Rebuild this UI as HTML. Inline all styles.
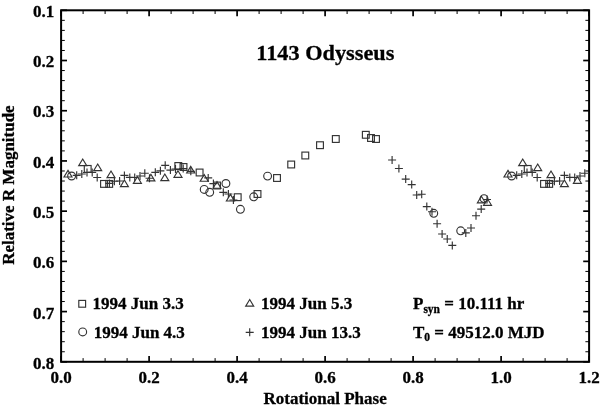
<!DOCTYPE html>
<html><head><meta charset="utf-8"><style>
html,body{margin:0;padding:0;background:#fff;}
svg{display:block;filter:grayscale(1);}
.t{font-family:"Liberation Serif",serif;font-weight:bold;font-size:17px;fill:#000;stroke:#000;stroke-width:0.3px;}
.m{fill:none;stroke:#333;stroke-width:1.15;}
</style></head><body>
<svg width="600" height="408" viewBox="0 0 600 408">
<rect x="61.1" y="10.3" width="528.00" height="351.50" fill="none" stroke="#000" stroke-width="2"/>
<line x1="61.1" y1="10.30" x2="67.00" y2="10.30" stroke="#000" stroke-width="1.7"/>
<line x1="589.1" y1="10.30" x2="583.20" y2="10.30" stroke="#000" stroke-width="1.7"/>
<line x1="61.1" y1="20.34" x2="64.80" y2="20.34" stroke="#000" stroke-width="1"/>
<line x1="589.1" y1="20.34" x2="585.40" y2="20.34" stroke="#000" stroke-width="1"/>
<line x1="61.1" y1="30.39" x2="64.80" y2="30.39" stroke="#000" stroke-width="1"/>
<line x1="589.1" y1="30.39" x2="585.40" y2="30.39" stroke="#000" stroke-width="1"/>
<line x1="61.1" y1="40.43" x2="64.80" y2="40.43" stroke="#000" stroke-width="1"/>
<line x1="589.1" y1="40.43" x2="585.40" y2="40.43" stroke="#000" stroke-width="1"/>
<line x1="61.1" y1="50.47" x2="64.80" y2="50.47" stroke="#000" stroke-width="1"/>
<line x1="589.1" y1="50.47" x2="585.40" y2="50.47" stroke="#000" stroke-width="1"/>
<line x1="61.1" y1="60.51" x2="67.00" y2="60.51" stroke="#000" stroke-width="1.7"/>
<line x1="589.1" y1="60.51" x2="583.20" y2="60.51" stroke="#000" stroke-width="1.7"/>
<line x1="61.1" y1="70.56" x2="64.80" y2="70.56" stroke="#000" stroke-width="1"/>
<line x1="589.1" y1="70.56" x2="585.40" y2="70.56" stroke="#000" stroke-width="1"/>
<line x1="61.1" y1="80.60" x2="64.80" y2="80.60" stroke="#000" stroke-width="1"/>
<line x1="589.1" y1="80.60" x2="585.40" y2="80.60" stroke="#000" stroke-width="1"/>
<line x1="61.1" y1="90.64" x2="64.80" y2="90.64" stroke="#000" stroke-width="1"/>
<line x1="589.1" y1="90.64" x2="585.40" y2="90.64" stroke="#000" stroke-width="1"/>
<line x1="61.1" y1="100.69" x2="64.80" y2="100.69" stroke="#000" stroke-width="1"/>
<line x1="589.1" y1="100.69" x2="585.40" y2="100.69" stroke="#000" stroke-width="1"/>
<line x1="61.1" y1="110.73" x2="67.00" y2="110.73" stroke="#000" stroke-width="1.7"/>
<line x1="589.1" y1="110.73" x2="583.20" y2="110.73" stroke="#000" stroke-width="1.7"/>
<line x1="61.1" y1="120.77" x2="64.80" y2="120.77" stroke="#000" stroke-width="1"/>
<line x1="589.1" y1="120.77" x2="585.40" y2="120.77" stroke="#000" stroke-width="1"/>
<line x1="61.1" y1="130.81" x2="64.80" y2="130.81" stroke="#000" stroke-width="1"/>
<line x1="589.1" y1="130.81" x2="585.40" y2="130.81" stroke="#000" stroke-width="1"/>
<line x1="61.1" y1="140.86" x2="64.80" y2="140.86" stroke="#000" stroke-width="1"/>
<line x1="589.1" y1="140.86" x2="585.40" y2="140.86" stroke="#000" stroke-width="1"/>
<line x1="61.1" y1="150.90" x2="64.80" y2="150.90" stroke="#000" stroke-width="1"/>
<line x1="589.1" y1="150.90" x2="585.40" y2="150.90" stroke="#000" stroke-width="1"/>
<line x1="61.1" y1="160.94" x2="67.00" y2="160.94" stroke="#000" stroke-width="1.7"/>
<line x1="589.1" y1="160.94" x2="583.20" y2="160.94" stroke="#000" stroke-width="1.7"/>
<line x1="61.1" y1="170.99" x2="64.80" y2="170.99" stroke="#000" stroke-width="1"/>
<line x1="589.1" y1="170.99" x2="585.40" y2="170.99" stroke="#000" stroke-width="1"/>
<line x1="61.1" y1="181.03" x2="64.80" y2="181.03" stroke="#000" stroke-width="1"/>
<line x1="589.1" y1="181.03" x2="585.40" y2="181.03" stroke="#000" stroke-width="1"/>
<line x1="61.1" y1="191.07" x2="64.80" y2="191.07" stroke="#000" stroke-width="1"/>
<line x1="589.1" y1="191.07" x2="585.40" y2="191.07" stroke="#000" stroke-width="1"/>
<line x1="61.1" y1="201.11" x2="64.80" y2="201.11" stroke="#000" stroke-width="1"/>
<line x1="589.1" y1="201.11" x2="585.40" y2="201.11" stroke="#000" stroke-width="1"/>
<line x1="61.1" y1="211.16" x2="67.00" y2="211.16" stroke="#000" stroke-width="1.7"/>
<line x1="589.1" y1="211.16" x2="583.20" y2="211.16" stroke="#000" stroke-width="1.7"/>
<line x1="61.1" y1="221.20" x2="64.80" y2="221.20" stroke="#000" stroke-width="1"/>
<line x1="589.1" y1="221.20" x2="585.40" y2="221.20" stroke="#000" stroke-width="1"/>
<line x1="61.1" y1="231.24" x2="64.80" y2="231.24" stroke="#000" stroke-width="1"/>
<line x1="589.1" y1="231.24" x2="585.40" y2="231.24" stroke="#000" stroke-width="1"/>
<line x1="61.1" y1="241.29" x2="64.80" y2="241.29" stroke="#000" stroke-width="1"/>
<line x1="589.1" y1="241.29" x2="585.40" y2="241.29" stroke="#000" stroke-width="1"/>
<line x1="61.1" y1="251.33" x2="64.80" y2="251.33" stroke="#000" stroke-width="1"/>
<line x1="589.1" y1="251.33" x2="585.40" y2="251.33" stroke="#000" stroke-width="1"/>
<line x1="61.1" y1="261.37" x2="67.00" y2="261.37" stroke="#000" stroke-width="1.7"/>
<line x1="589.1" y1="261.37" x2="583.20" y2="261.37" stroke="#000" stroke-width="1.7"/>
<line x1="61.1" y1="271.41" x2="64.80" y2="271.41" stroke="#000" stroke-width="1"/>
<line x1="589.1" y1="271.41" x2="585.40" y2="271.41" stroke="#000" stroke-width="1"/>
<line x1="61.1" y1="281.46" x2="64.80" y2="281.46" stroke="#000" stroke-width="1"/>
<line x1="589.1" y1="281.46" x2="585.40" y2="281.46" stroke="#000" stroke-width="1"/>
<line x1="61.1" y1="291.50" x2="64.80" y2="291.50" stroke="#000" stroke-width="1"/>
<line x1="589.1" y1="291.50" x2="585.40" y2="291.50" stroke="#000" stroke-width="1"/>
<line x1="61.1" y1="301.54" x2="64.80" y2="301.54" stroke="#000" stroke-width="1"/>
<line x1="589.1" y1="301.54" x2="585.40" y2="301.54" stroke="#000" stroke-width="1"/>
<line x1="61.1" y1="311.59" x2="67.00" y2="311.59" stroke="#000" stroke-width="1.7"/>
<line x1="589.1" y1="311.59" x2="583.20" y2="311.59" stroke="#000" stroke-width="1.7"/>
<line x1="61.1" y1="321.63" x2="64.80" y2="321.63" stroke="#000" stroke-width="1"/>
<line x1="589.1" y1="321.63" x2="585.40" y2="321.63" stroke="#000" stroke-width="1"/>
<line x1="61.1" y1="331.67" x2="64.80" y2="331.67" stroke="#000" stroke-width="1"/>
<line x1="589.1" y1="331.67" x2="585.40" y2="331.67" stroke="#000" stroke-width="1"/>
<line x1="61.1" y1="341.71" x2="64.80" y2="341.71" stroke="#000" stroke-width="1"/>
<line x1="589.1" y1="341.71" x2="585.40" y2="341.71" stroke="#000" stroke-width="1"/>
<line x1="61.1" y1="351.76" x2="64.80" y2="351.76" stroke="#000" stroke-width="1"/>
<line x1="589.1" y1="351.76" x2="585.40" y2="351.76" stroke="#000" stroke-width="1"/>
<line x1="61.1" y1="361.80" x2="67.00" y2="361.80" stroke="#000" stroke-width="1.7"/>
<line x1="589.1" y1="361.80" x2="583.20" y2="361.80" stroke="#000" stroke-width="1.7"/>
<line x1="61.10" y1="10.3" x2="61.10" y2="16.20" stroke="#000" stroke-width="1.7"/>
<line x1="61.10" y1="361.8" x2="61.10" y2="355.90" stroke="#000" stroke-width="1.7"/>
<line x1="83.10" y1="10.3" x2="83.10" y2="14.00" stroke="#000" stroke-width="1"/>
<line x1="83.10" y1="361.8" x2="83.10" y2="358.10" stroke="#000" stroke-width="1"/>
<line x1="105.10" y1="10.3" x2="105.10" y2="14.00" stroke="#000" stroke-width="1"/>
<line x1="105.10" y1="361.8" x2="105.10" y2="358.10" stroke="#000" stroke-width="1"/>
<line x1="127.10" y1="10.3" x2="127.10" y2="14.00" stroke="#000" stroke-width="1"/>
<line x1="127.10" y1="361.8" x2="127.10" y2="358.10" stroke="#000" stroke-width="1"/>
<line x1="149.10" y1="10.3" x2="149.10" y2="16.20" stroke="#000" stroke-width="1.7"/>
<line x1="149.10" y1="361.8" x2="149.10" y2="355.90" stroke="#000" stroke-width="1.7"/>
<line x1="171.10" y1="10.3" x2="171.10" y2="14.00" stroke="#000" stroke-width="1"/>
<line x1="171.10" y1="361.8" x2="171.10" y2="358.10" stroke="#000" stroke-width="1"/>
<line x1="193.10" y1="10.3" x2="193.10" y2="14.00" stroke="#000" stroke-width="1"/>
<line x1="193.10" y1="361.8" x2="193.10" y2="358.10" stroke="#000" stroke-width="1"/>
<line x1="215.10" y1="10.3" x2="215.10" y2="14.00" stroke="#000" stroke-width="1"/>
<line x1="215.10" y1="361.8" x2="215.10" y2="358.10" stroke="#000" stroke-width="1"/>
<line x1="237.10" y1="10.3" x2="237.10" y2="16.20" stroke="#000" stroke-width="1.7"/>
<line x1="237.10" y1="361.8" x2="237.10" y2="355.90" stroke="#000" stroke-width="1.7"/>
<line x1="259.10" y1="10.3" x2="259.10" y2="14.00" stroke="#000" stroke-width="1"/>
<line x1="259.10" y1="361.8" x2="259.10" y2="358.10" stroke="#000" stroke-width="1"/>
<line x1="281.10" y1="10.3" x2="281.10" y2="14.00" stroke="#000" stroke-width="1"/>
<line x1="281.10" y1="361.8" x2="281.10" y2="358.10" stroke="#000" stroke-width="1"/>
<line x1="303.10" y1="10.3" x2="303.10" y2="14.00" stroke="#000" stroke-width="1"/>
<line x1="303.10" y1="361.8" x2="303.10" y2="358.10" stroke="#000" stroke-width="1"/>
<line x1="325.10" y1="10.3" x2="325.10" y2="16.20" stroke="#000" stroke-width="1.7"/>
<line x1="325.10" y1="361.8" x2="325.10" y2="355.90" stroke="#000" stroke-width="1.7"/>
<line x1="347.10" y1="10.3" x2="347.10" y2="14.00" stroke="#000" stroke-width="1"/>
<line x1="347.10" y1="361.8" x2="347.10" y2="358.10" stroke="#000" stroke-width="1"/>
<line x1="369.10" y1="10.3" x2="369.10" y2="14.00" stroke="#000" stroke-width="1"/>
<line x1="369.10" y1="361.8" x2="369.10" y2="358.10" stroke="#000" stroke-width="1"/>
<line x1="391.10" y1="10.3" x2="391.10" y2="14.00" stroke="#000" stroke-width="1"/>
<line x1="391.10" y1="361.8" x2="391.10" y2="358.10" stroke="#000" stroke-width="1"/>
<line x1="413.10" y1="10.3" x2="413.10" y2="16.20" stroke="#000" stroke-width="1.7"/>
<line x1="413.10" y1="361.8" x2="413.10" y2="355.90" stroke="#000" stroke-width="1.7"/>
<line x1="435.10" y1="10.3" x2="435.10" y2="14.00" stroke="#000" stroke-width="1"/>
<line x1="435.10" y1="361.8" x2="435.10" y2="358.10" stroke="#000" stroke-width="1"/>
<line x1="457.10" y1="10.3" x2="457.10" y2="14.00" stroke="#000" stroke-width="1"/>
<line x1="457.10" y1="361.8" x2="457.10" y2="358.10" stroke="#000" stroke-width="1"/>
<line x1="479.10" y1="10.3" x2="479.10" y2="14.00" stroke="#000" stroke-width="1"/>
<line x1="479.10" y1="361.8" x2="479.10" y2="358.10" stroke="#000" stroke-width="1"/>
<line x1="501.10" y1="10.3" x2="501.10" y2="16.20" stroke="#000" stroke-width="1.7"/>
<line x1="501.10" y1="361.8" x2="501.10" y2="355.90" stroke="#000" stroke-width="1.7"/>
<line x1="523.10" y1="10.3" x2="523.10" y2="14.00" stroke="#000" stroke-width="1"/>
<line x1="523.10" y1="361.8" x2="523.10" y2="358.10" stroke="#000" stroke-width="1"/>
<line x1="545.10" y1="10.3" x2="545.10" y2="14.00" stroke="#000" stroke-width="1"/>
<line x1="545.10" y1="361.8" x2="545.10" y2="358.10" stroke="#000" stroke-width="1"/>
<line x1="567.10" y1="10.3" x2="567.10" y2="14.00" stroke="#000" stroke-width="1"/>
<line x1="567.10" y1="361.8" x2="567.10" y2="358.10" stroke="#000" stroke-width="1"/>
<line x1="589.10" y1="10.3" x2="589.10" y2="16.20" stroke="#000" stroke-width="1.7"/>
<line x1="589.10" y1="361.8" x2="589.10" y2="355.90" stroke="#000" stroke-width="1.7"/>
<text transform="translate(54.30,16.80) scale(1,1.0)" text-anchor="end" class="t">0.1</text>
<text transform="translate(54.30,67.12) scale(1,1.0)" text-anchor="end" class="t">0.2</text>
<text transform="translate(54.30,117.44) scale(1,1.0)" text-anchor="end" class="t">0.3</text>
<text transform="translate(54.30,167.76) scale(1,1.0)" text-anchor="end" class="t">0.4</text>
<text transform="translate(54.30,218.09) scale(1,1.0)" text-anchor="end" class="t">0.5</text>
<text transform="translate(54.30,268.41) scale(1,1.0)" text-anchor="end" class="t">0.6</text>
<text transform="translate(54.30,318.73) scale(1,1.0)" text-anchor="end" class="t">0.7</text>
<text transform="translate(54.30,369.05) scale(1,1.0)" text-anchor="end" class="t">0.8</text>
<text transform="translate(61.10,383.30) scale(1,1.0)" text-anchor="middle" class="t">0.0</text>
<text transform="translate(149.10,383.30) scale(1,1.0)" text-anchor="middle" class="t">0.2</text>
<text transform="translate(237.10,383.30) scale(1,1.0)" text-anchor="middle" class="t">0.4</text>
<text transform="translate(325.10,383.30) scale(1,1.0)" text-anchor="middle" class="t">0.6</text>
<text transform="translate(413.10,383.30) scale(1,1.0)" text-anchor="middle" class="t">0.8</text>
<text transform="translate(501.10,383.30) scale(1,1.0)" text-anchor="middle" class="t">1.0</text>
<text transform="translate(589.10,383.30) scale(1,1.0)" text-anchor="middle" class="t">1.2</text>
<text transform="translate(325.10,403.70) scale(1,1.03)" text-anchor="middle" class="t">Rotational Phase</text>
<text transform="translate(14.30,185.10) rotate(-90) scale(1,1.03)" text-anchor="middle" class="t">Relative R Magnitude</text>
<text transform="translate(325.30,59.70) scale(1,0.98)" text-anchor="middle" class="t" style="font-size:22.3px">1143 Odysseus</text>
<text transform="translate(92.50,308.90) scale(1,1.0)" class="t">1994 Jun 3.3</text>
<text transform="translate(93.70,337.50) scale(1,1.0)" class="t">1994 Jun 4.3</text>
<text transform="translate(261.00,308.90) scale(1,1.0)" class="t">1994 Jun 5.3</text>
<text transform="translate(261.00,337.50) scale(1,1.0)" class="t">1994 Jun 13.3</text>
<text transform="translate(413.00,308.90) scale(1,1.0)" class="t">P<tspan dy="3.6" style="font-size:11.5px">syn</tspan><tspan dy="-3.6"> = 10.111 hr</tspan></text>
<text transform="translate(413.00,337.50) scale(1,1.0)" class="t">T<tspan dy="3.6" style="font-size:11.5px">0</tspan><tspan dy="-3.6"> = 49512.0 MJD</tspan></text>
<rect x="78.80" y="300.40" width="6.8" height="6.8" class="m"/>
<circle cx="82.70" cy="331.90" r="3.9" class="m"/>
<path d="M249.70 299.50L253.70 306.10L245.70 306.10Z" class="m"/>
<path d="M245.70 332.30H253.70M249.70 328.30V336.30" class="m"/>
<path d="M68.00 170.40L72.00 177.00L64.00 177.00Z" class="m"/>
<circle cx="71.60" cy="176.00" r="3.9" class="m"/>
<path d="M72.70 175.30H80.70M76.70 171.30V179.30" class="m"/>
<path d="M77.80 174.00H85.80M81.80 170.00V178.00" class="m"/>
<path d="M82.70 159.00L86.70 165.60L78.70 165.60Z" class="m"/>
<rect x="84.30" y="165.50" width="6.8" height="6.8" class="m"/>
<path d="M83.00 172.50H91.00M87.00 168.50V176.50" class="m"/>
<path d="M88.20 172.40H96.20M92.20 168.40V176.40" class="m"/>
<path d="M97.70 164.00L101.70 170.60L93.70 170.60Z" class="m"/>
<path d="M93.20 177.50H101.20M97.20 173.50V181.50" class="m"/>
<rect x="100.60" y="180.50" width="6.8" height="6.8" class="m"/>
<rect x="105.80" y="180.50" width="6.8" height="6.8" class="m"/>
<path d="M105.40 183.40H113.40M109.40 179.40V187.40" class="m"/>
<path d="M111.00 171.00L115.00 177.60L107.00 177.60Z" class="m"/>
<path d="M110.40 181.20H118.40M114.40 177.20V185.20" class="m"/>
<path d="M115.60 181.00H123.60M119.60 177.00V185.00" class="m"/>
<path d="M120.40 175.40H128.40M124.40 171.40V179.40" class="m"/>
<path d="M124.40 180.00L128.40 186.60L120.40 186.60Z" class="m"/>
<path d="M125.80 177.40H133.80M129.80 173.40V181.40" class="m"/>
<path d="M130.70 177.50H138.70M134.70 173.50V181.50" class="m"/>
<path d="M137.40 176.70L141.40 183.30L133.40 183.30Z" class="m"/>
<path d="M136.00 176.00H144.00M140.00 172.00V180.00" class="m"/>
<path d="M140.80 173.20H148.80M144.80 169.20V177.20" class="m"/>
<path d="M145.50 178.20H153.50M149.50 174.20V182.20" class="m"/>
<path d="M150.90 174.30L154.90 180.90L146.90 180.90Z" class="m"/>
<path d="M151.30 172.30H159.30M155.30 168.30V176.30" class="m"/>
<path d="M156.40 170.80H164.40M160.40 166.80V174.80" class="m"/>
<path d="M161.20 165.30H169.20M165.20 161.30V169.30" class="m"/>
<path d="M164.80 174.00L168.80 180.60L160.80 180.60Z" class="m"/>
<path d="M166.40 170.10H174.40M170.40 166.10V174.10" class="m"/>
<rect x="174.90" y="162.60" width="6.8" height="6.8" class="m"/>
<path d="M171.50 169.00H179.50M175.50 165.00V173.00" class="m"/>
<path d="M178.00 170.70L182.00 177.30L174.00 177.30Z" class="m"/>
<path d="M179.20 168.60H187.20M183.20 164.60V172.60" class="m"/>
<rect x="180.10" y="163.60" width="6.8" height="6.8" class="m"/>
<path d="M190.70 166.40L194.70 173.00L186.70 173.00Z" class="m"/>
<path d="M186.80 171.30H194.80M190.80 167.30V175.30" class="m"/>
<rect x="196.20" y="169.10" width="6.8" height="6.8" class="m"/>
<path d="M204.20 174.60L208.20 181.20L200.20 181.20Z" class="m"/>
<path d="M204.20 177.90H212.20M208.20 173.90V181.90" class="m"/>
<circle cx="204.20" cy="189.40" r="3.9" class="m"/>
<circle cx="209.70" cy="192.30" r="3.9" class="m"/>
<path d="M209.40 183.60H217.40M213.40 179.60V187.60" class="m"/>
<rect x="213.60" y="182.10" width="6.8" height="6.8" class="m"/>
<path d="M217.00 181.60L221.00 188.20L213.00 188.20Z" class="m"/>
<circle cx="225.90" cy="183.50" r="3.9" class="m"/>
<path d="M219.30 192.30H227.30M223.30 188.30V196.30" class="m"/>
<path d="M224.40 194.00H232.40M228.40 190.00V198.00" class="m"/>
<path d="M230.40 194.40L234.40 201.00L226.40 201.00Z" class="m"/>
<path d="M229.40 200.00H237.40M233.40 196.00V204.00" class="m"/>
<rect x="234.30" y="193.80" width="6.8" height="6.8" class="m"/>
<circle cx="240.40" cy="209.30" r="3.9" class="m"/>
<circle cx="253.70" cy="196.80" r="3.9" class="m"/>
<rect x="254.10" y="190.60" width="6.8" height="6.8" class="m"/>
<circle cx="267.60" cy="176.10" r="3.9" class="m"/>
<rect x="273.60" y="174.60" width="6.8" height="6.8" class="m"/>
<rect x="287.80" y="161.10" width="6.8" height="6.8" class="m"/>
<rect x="301.90" y="152.10" width="6.8" height="6.8" class="m"/>
<rect x="316.60" y="141.80" width="6.8" height="6.8" class="m"/>
<rect x="332.40" y="135.60" width="6.8" height="6.8" class="m"/>
<rect x="362.40" y="131.40" width="6.8" height="6.8" class="m"/>
<rect x="367.60" y="134.60" width="6.8" height="6.8" class="m"/>
<rect x="372.60" y="135.60" width="6.8" height="6.8" class="m"/>
<path d="M388.10 160.00H396.10M392.10 156.00V164.00" class="m"/>
<path d="M394.90 168.50H402.90M398.90 164.50V172.50" class="m"/>
<path d="M401.70 179.10H409.70M405.70 175.10V183.10" class="m"/>
<path d="M407.70 184.60H415.70M411.70 180.60V188.60" class="m"/>
<path d="M412.70 195.00H420.70M416.70 191.00V199.00" class="m"/>
<path d="M417.70 194.20H425.70M421.70 190.20V198.20" class="m"/>
<path d="M422.80 206.60H430.80M426.80 202.60V210.60" class="m"/>
<path d="M428.00 211.70H436.00M432.00 207.70V215.70" class="m"/>
<circle cx="433.75" cy="213.30" r="3.9" class="m"/>
<path d="M433.10 223.75H441.10M437.10 219.75V227.75" class="m"/>
<path d="M438.10 234.00H446.10M442.10 230.00V238.00" class="m"/>
<path d="M443.25 239.00H451.25M447.25 235.00V243.00" class="m"/>
<path d="M448.30 245.40H456.30M452.30 241.40V249.40" class="m"/>
<circle cx="460.70" cy="230.80" r="3.9" class="m"/>
<path d="M461.80 232.90H469.80M465.80 228.90V236.90" class="m"/>
<path d="M467.00 228.00H475.00M471.00 224.00V232.00" class="m"/>
<path d="M472.00 215.70H480.00M476.00 211.70V219.70" class="m"/>
<path d="M477.20 209.10H485.20M481.20 205.10V213.10" class="m"/>
<path d="M481.40 196.20L485.40 202.80L477.40 202.80Z" class="m"/>
<circle cx="484.00" cy="198.60" r="3.9" class="m"/>
<path d="M487.50 198.70L491.50 205.30L483.50 205.30Z" class="m"/>
<path d="M483.00 199.50H491.00M487.00 195.50V203.50" class="m"/>
<path d="M508.00 170.40L512.00 177.00L504.00 177.00Z" class="m"/>
<circle cx="511.60" cy="176.00" r="3.9" class="m"/>
<path d="M512.70 175.30H520.70M516.70 171.30V179.30" class="m"/>
<path d="M517.80 174.00H525.80M521.80 170.00V178.00" class="m"/>
<path d="M522.70 159.00L526.70 165.60L518.70 165.60Z" class="m"/>
<rect x="524.30" y="165.50" width="6.8" height="6.8" class="m"/>
<path d="M523.00 172.50H531.00M527.00 168.50V176.50" class="m"/>
<path d="M528.20 172.40H536.20M532.20 168.40V176.40" class="m"/>
<path d="M537.70 164.00L541.70 170.60L533.70 170.60Z" class="m"/>
<path d="M533.20 177.50H541.20M537.20 173.50V181.50" class="m"/>
<rect x="540.60" y="180.50" width="6.8" height="6.8" class="m"/>
<rect x="545.80" y="180.50" width="6.8" height="6.8" class="m"/>
<path d="M545.40 183.40H553.40M549.40 179.40V187.40" class="m"/>
<path d="M551.00 171.00L555.00 177.60L547.00 177.60Z" class="m"/>
<path d="M550.40 181.20H558.40M554.40 177.20V185.20" class="m"/>
<path d="M555.60 181.00H563.60M559.60 177.00V185.00" class="m"/>
<path d="M560.40 175.40H568.40M564.40 171.40V179.40" class="m"/>
<path d="M564.40 180.00L568.40 186.60L560.40 186.60Z" class="m"/>
<path d="M565.80 177.40H573.80M569.80 173.40V181.40" class="m"/>
<path d="M570.70 177.50H578.70M574.70 173.50V181.50" class="m"/>
<path d="M577.40 176.70L581.40 183.30L573.40 183.30Z" class="m"/>
<path d="M576.00 176.00H584.00M580.00 172.00V180.00" class="m"/>
<path d="M580.80 173.20H588.80M584.80 169.20V177.20" class="m"/>
</svg></body></html>
